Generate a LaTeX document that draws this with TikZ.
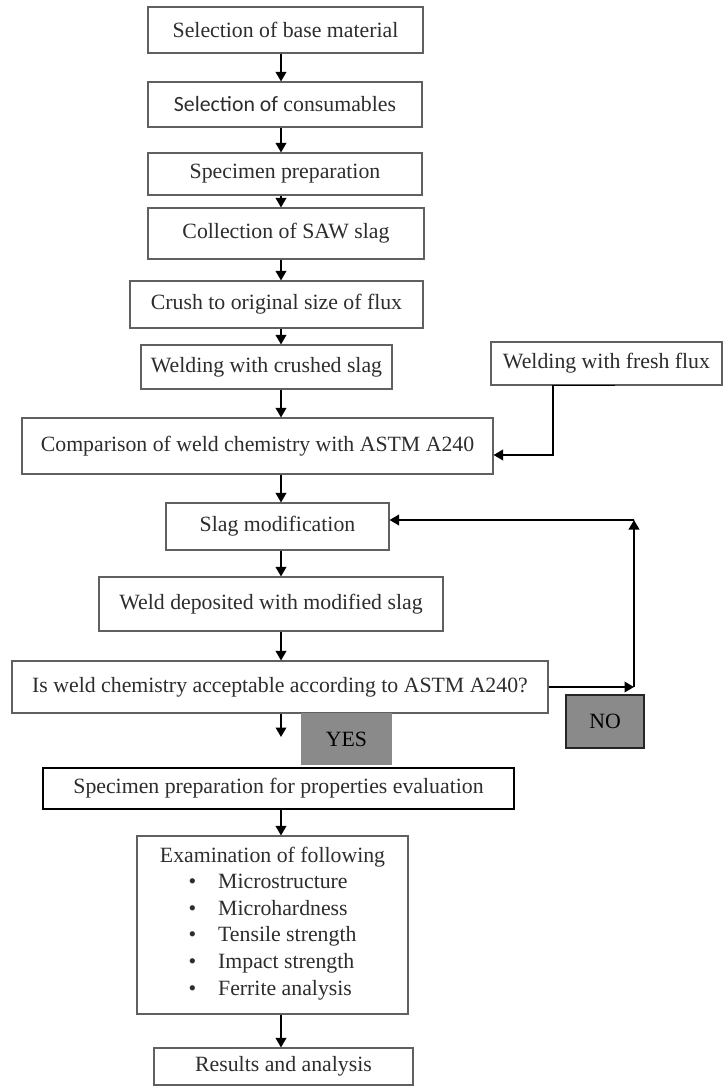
\documentclass[tikz,border=0pt]{standalone}
\usepackage{fontspec}
\setmainfont{Liberation Serif}
\newfontfamily\calib{Carlito}
\usetikzlibrary{arrows.meta,positioning}
\definecolor{bc}{RGB}{96,96,96}
\definecolor{tc}{RGB}{45,45,45}
\definecolor{gc}{RGB}{138,138,138}
\tikzset{box/.style={draw=bc,line width=.6pt,fill=white,text=tc,align=center,inner sep=2pt},
 tb/.style={box,draw=black,line width=1.6pt},
 gb/.style={box,fill=gc,draw=none,text=black},
 nb/.style={gb,draw=black!85,line width=.6pt},
 arr/.style={-{Triangle[length=1.9mm,width=2.1mm]},line width=1.1pt},
 every node/.style={font=\fontsize{12.4}{15.1}\selectfont}}
\begin{document}
\begin{tikzpicture}
\useasboundingbox (0,0) rectangle (14.46,-21.72);
\node[box,minimum width=5.50cm,minimum height=9.2mm] (b1) at (5.71,-0.60) {Selection of base material};
\node[box,minimum width=5.48cm,minimum height=9.0mm] (b2) at (5.70,-2.09) {{\calib Selection of} consumables};
\node[box,minimum width=5.48cm,minimum height=8.4mm] (b3) at (5.70,-3.48) {Specimen preparation};
\node[box,minimum width=5.52cm,minimum height=10.2mm] (b4) at (5.72,-4.67) {Collection of SAW slag};
\node[box,minimum width=5.86cm,minimum height=9.4mm] (b5) at (5.53,-6.09) {Crush to original size of flux};
\node[box,minimum width=5.02cm,minimum height=8.8mm] (b6) at (5.33,-7.34) {Welding with crushed slag};
\node[box,minimum width=4.62cm,minimum height=8.6mm] (fresh) at (12.13,-7.27) {Welding with fresh flux};
\node[box,minimum width=9.42cm,minimum height=11.2mm] (comp) at (5.15,-8.92) {Comparison of weld chemistry with ASTM A240};
\node[box,minimum width=4.46cm,minimum height=9.4mm] (slag) at (5.55,-10.53) {Slag modification};
\node[box,minimum width=6.88cm,minimum height=10.8mm] (wdep) at (5.42,-12.08) {Weld deposited with modified slag};
\node[box,minimum width=10.72cm,minimum height=10.4mm] (isw) at (5.60,-13.74) {Is weld chemistry acceptable according to ASTM A240?};
\node[gb,minimum width=1.82cm,minimum height=10.4mm] (yes) at (6.93,-14.78) {YES};
\node[nb,minimum width=1.56cm,minimum height=10.6mm] (no) at (12.10,-14.43) {NO};
\node[tb,minimum width=9.42cm,minimum height=8.2mm] (props) at (5.57,-15.77) {Specimen preparation for properties evaluation};
\node[box,minimum width=5.42cm,minimum height=35.6mm] (exam) at (5.45,-18.50) {Examination of following\\
 \begin{tabular}[t]{@{}l@{\hspace{4.4mm}}l@{}}\textbullet&Microstructure\\\textbullet&Microhardness\\
 \textbullet&Tensile strength\\\textbullet&Impact strength\\\textbullet&Ferrite analysis\end{tabular}};
\node[box,minimum width=5.18cm,minimum height=7.4mm] (res) at (5.67,-21.33) {Results and analysis};
\coordinate (ax) at (5.62,0);
\coordinate (ydn) at (5.62,-14.74);
\coordinate (nc) at (12.68,-13.74);
\coordinate (lc) at (12.68,-10.40);
\foreach \a/\b in {b1/b2,b2/b3,b3/b4,b4/b5,b5/b6,b6/comp,comp/slag,slag/wdep,wdep/isw,props/exam,exam/res}{\draw[arr] (\a.south -| ax)--(\b.north -| ax);}
\draw[arr] (isw.south -| ax)--(ydn);
\draw[arr] ([xshift=1.7mm]fresh.south)--([xshift=-10.7mm]fresh.south) |- ([yshift=-1.8mm]comp.east);
\draw[arr] (isw.east)--(nc);
\draw[arr] (nc)--(lc);
\draw[arr] (lc)--([yshift=1.3mm]slag.east);
\end{tikzpicture}
\end{document}
